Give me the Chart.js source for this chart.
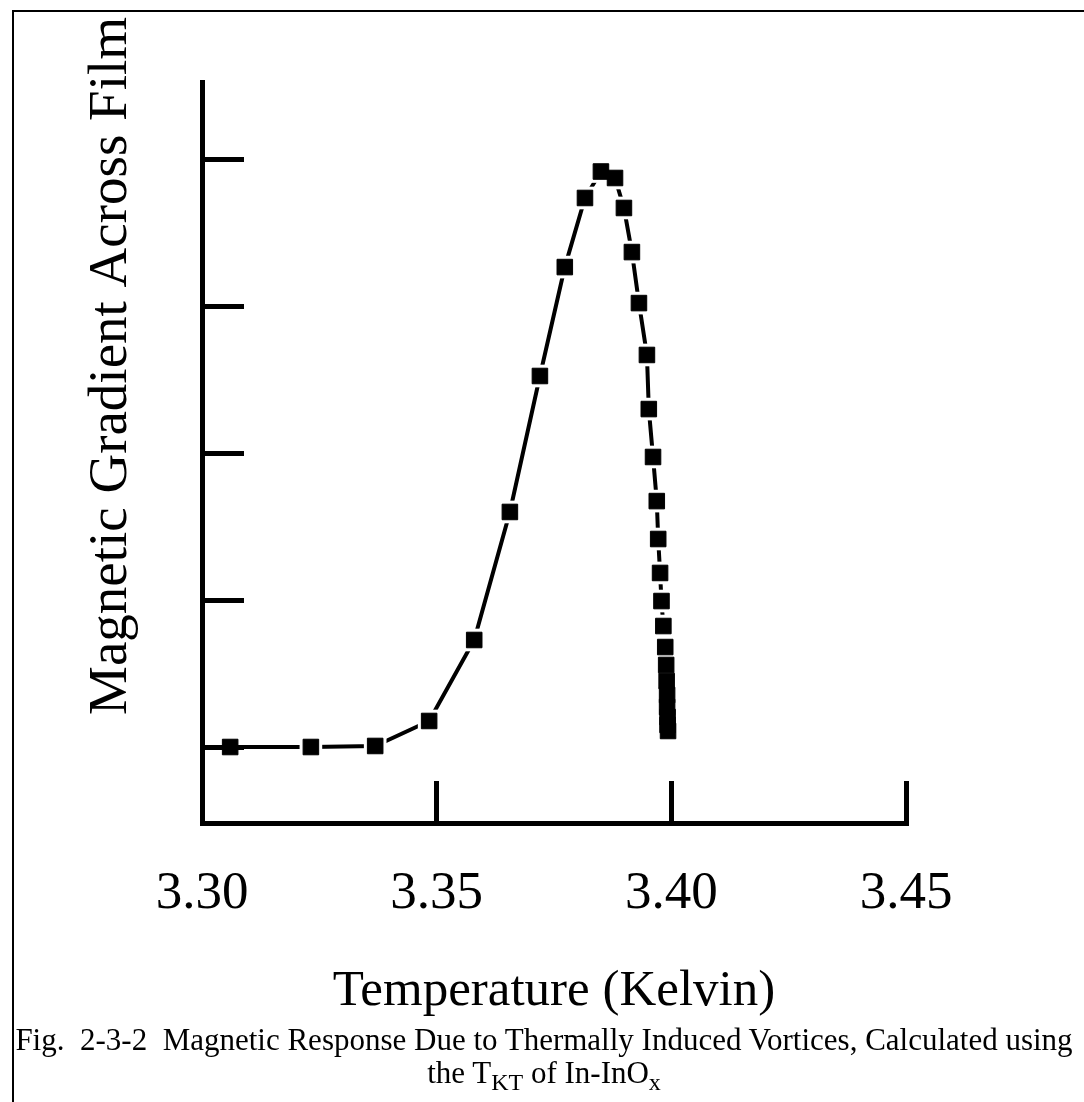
<!DOCTYPE html>
<html>
<head>
<meta charset="utf-8">
<script src="https://cdn.jsdelivr.net/npm/chart.js@4.4.0/dist/chart.umd.min.js"></script>
<style>
  body { margin: 0; background: #fff; }
  #frame { position: absolute; left: 12px; top: 10px; width: 1100px; height: 1100px;
           border-left: 2px solid #000; border-top: 2px solid #000; }
  #chart { position: absolute; left: 0; top: 0; }
  #caption { position: absolute; left: 0; top: 1023px; width: 1088px; text-align: center;
             font-family: 'Liberation Serif', serif; font-size: 31px; line-height: 33px; color: #000;
             white-space: nowrap; }
  #caption sub { font-size: 24px; vertical-align: -7px; line-height: 0; }
</style>
</head>
<body>
<div id="frame"></div>
<canvas id="chart" width="1084" height="1102"></canvas>
<div id="caption">Fig.&nbsp; 2-3-2&nbsp; Magnetic Response Due to Thermally Induced Vortices, Calculated using<br>the T<sub>KT</sub> of In-InO<sub>x</sub></div>
<script>
// temperature (K) and magnetic gradient (arb. units)
var tempK = [3.3060, 3.3232, 3.3369, 3.3484, 3.3580, 3.3656, 3.3720, 3.3773, 3.3816, 3.3850,
             3.3880, 3.3899, 3.3916, 3.3931, 3.3948, 3.3952, 3.3961, 3.3969, 3.3972, 3.3976,
             3.3979, 3.3983, 3.3987, 3.3989, 3.3990, 3.3991, 3.3991, 3.3992, 3.3992, 3.3993];
var gradient = [1.00, 1.00, 1.007, 1.177, 1.728, 2.599, 3.524, 4.265, 4.735, 4.915,
                4.871, 4.667, 4.367, 4.020, 3.667, 3.299, 2.973, 2.673, 2.415, 2.184,
                1.993, 1.823, 1.680, 1.558, 1.449, 1.354, 1.272, 1.204, 1.150, 1.109];
var xTicks = [3.30, 3.35, 3.40, 3.45];
var yTicks = [1, 2, 3, 4, 5];
var xTitle = 'Temperature (Kelvin)';
var yTitle = 'Magnetic Gradient Across Film';

var pts = [];
for (let i = 0; i < tempK.length; i++) {
    pts.push({ x: tempK[i], y: gradient[i] });
}

// y title sits above the axis centre in the original, so draw it by hand
var yTitlePlugin = {
    id: 'yTitle',
    afterDraw: function (chart) {
        var ctx = chart.ctx;
        ctx.save();
        ctx.translate(112, 366);
        ctx.rotate(-Math.PI / 2);
        ctx.font = '55px "Liberation Serif"';
        ctx.fillStyle = '#000';
        ctx.textAlign = 'center';
        ctx.textBaseline = 'middle';
        ctx.fillText(yTitle, 0, 0);
        ctx.restore();
    }
};

var context = document.getElementById('chart').getContext('2d');
new Chart(context, {
    type: 'scatter',
    data: {
        datasets: [{
            // black square markers on top
            data: pts,
            showLine: false,
            pointStyle: 'rect',
            pointRadius: 11,
            pointBackgroundColor: '#000',
            pointBorderColor: '#000',
            pointBorderWidth: 1,
            order: 0
        }, {
            // connecting line, with white squares that leave small gaps at the markers
            data: pts,
            showLine: true,
            borderColor: '#000',
            borderWidth: 4,
            pointStyle: 'rect',
            pointRadius: 16,
            pointBackgroundColor: '#fff',
            pointBorderWidth: 0,
            order: 1
        }]
    },
    options: {
        responsive: false,
        animation: false,
        devicePixelRatio: 1,
        layout: { padding: { top: 82, right: 178, left: 0, bottom: 0 } },
        plugins: { legend: { display: false }, tooltip: { enabled: false } },
        scales: {
            x: {
                type: 'linear',
                min: 3.30,
                max: 3.45,
                afterFit: function (scale) { scale.height = 279; },
                afterBuildTicks: function (scale) {
                    scale.ticks = xTicks.map(v => ({ value: v }));
                },
                grid: { drawOnChartArea: false, drawTicks: true, tickLength: -42,
                        color: '#000', lineWidth: 5, z: 1 },
                border: { display: true, color: '#000', width: 5, z: 1 },
                ticks: {
                    padding: 81,
                    maxRotation: 0,
                    autoSkip: false,
                    color: '#000',
                    font: { family: 'Liberation Serif', size: 53 },
                    callback: function (v) { return v.toFixed(2); }
                },
                title: {
                    display: true,
                    text: xTitle,
                    color: '#000',
                    font: { family: 'Liberation Serif', size: 51 },
                    padding: { top: 0, bottom: 80 }
                }
            },
            y: {
                type: 'linear',
                min: 0.483,
                max: 5.524,
                afterFit: function (scale) { scale.width = 202; },
                afterBuildTicks: function (scale) {
                    scale.ticks = yTicks.map(v => ({ value: v }));
                },
                grid: { drawOnChartArea: false, drawTicks: true, tickLength: -42,
                        color: '#000', lineWidth: 5, z: 1 },
                border: { display: true, color: '#000', width: 5, z: 1 },
                ticks: { display: false }
            }
        }
    },
    plugins: [yTitlePlugin]
});
</script>
</body>
</html>
